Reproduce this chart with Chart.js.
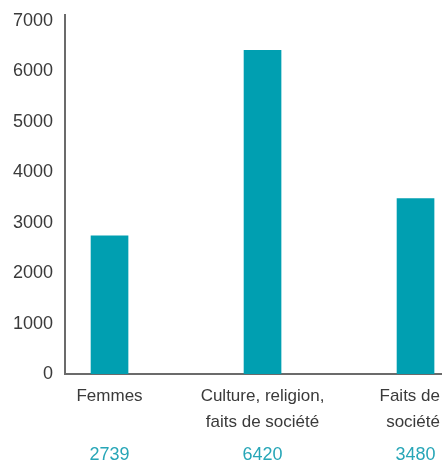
<!DOCTYPE html>
<html lang="fr">
<head>
<meta charset="utf-8">
<script src="https://cdn.jsdelivr.net/npm/chart.js@4/dist/chart.umd.min.js"></script>
<style>
    html, body { margin: 0; padding: 0; background: #fff; overflow: hidden; }
    #graphique { display: block; }
</style>
</head>
<body>
<canvas id="graphique" width="442" height="463"></canvas>
<script>
const categories = [['Femmes'], ['Culture, religion,', 'faits de société'], ['Faits de', 'société']];
const valeurs = [2739, 6420, 3480];
const ticksY = [0, 1000, 2000, 3000, 4000, 5000, 6000, 7000];

const TEAL = '#009fb1';
const TEXTE = '#3a3a3a';
const POLICE = "'Liberation Sans', Arial, sans-serif";

// libellés des catégories et valeurs sous l'axe, gardés dans le canvas
const libellesSousAxe = {
    id: 'libellesSousAxe',
    afterDraw(chart) {
        const { ctx, chartArea, scales } = chart;
        const bas = chartArea.bottom;
        const largeur = chart.width;

        const placer = (texte, x) => {
            const demi = ctx.measureText(texte).width / 2;
            return Math.min(Math.max(x, demi + 2), largeur - demi - 2);
        };

        ctx.save();
        ctx.textAlign = 'center';
        ctx.textBaseline = 'alphabetic';

        categories.forEach((lignes, i) => {
            const x = scales.x.getPixelForValue(i);

            ctx.font = '17px ' + POLICE;
            ctx.fillStyle = TEXTE;
            lignes.forEach((ligne, j) => {
                ctx.fillText(ligne, placer(ligne, x), bas + 27 + j * 26);
            });

            ctx.font = '18px ' + POLICE;
            ctx.fillStyle = '#27a6b7';
            const v = String(valeurs[i]);
            ctx.fillText(v, placer(v, x), bas + 86);
        });
        ctx.restore();
    }
};

new Chart(document.getElementById('graphique'), {
    type: 'bar',
    data: {
        datasets: [{
            data: valeurs.map((v, i) => ({ x: i, y: v })),
            backgroundColor: TEAL,
            barThickness: 37
        }]
    },
    options: {
        responsive: false,
        animation: false,
        layout: { padding: { top: 15, left: 11, right: 0, bottom: 0 } },
        plugins: {
            legend: { display: false },
            tooltip: { enabled: false }
        },
        scales: {
            x: {
                type: 'linear',
                offset: false,
                min: -0.291,
                max: 2.173,
                grid: { display: false, drawTicks: false, offset: false },
                border: { color: '#6b6b6b', width: 2 },
                ticks: { display: false },
                afterFit(scale) {
                    scale.height = 89;
                    scale.paddingLeft = 0;
                    scale.paddingRight = 0;
                }
            },
            y: {
                min: 0,
                max: 7119,
                grid: { display: false, drawTicks: false },
                border: { color: '#6b6b6b', width: 2 },
                ticks: {
                    color: TEXTE,
                    padding: 12,
                    font: { family: POLICE, size: 18 },
                    callback: v => String(v)
                },
                afterBuildTicks(scale) {
                    scale.ticks = ticksY.map(v => ({ value: v }));
                },
                afterFit(scale) {
                    scale.width = 54;
                    scale.paddingTop = 0;
                    scale.paddingBottom = 0;
                }
            }
        }
    },
    plugins: [libellesSousAxe]
});
</script>
</body>
</html>
